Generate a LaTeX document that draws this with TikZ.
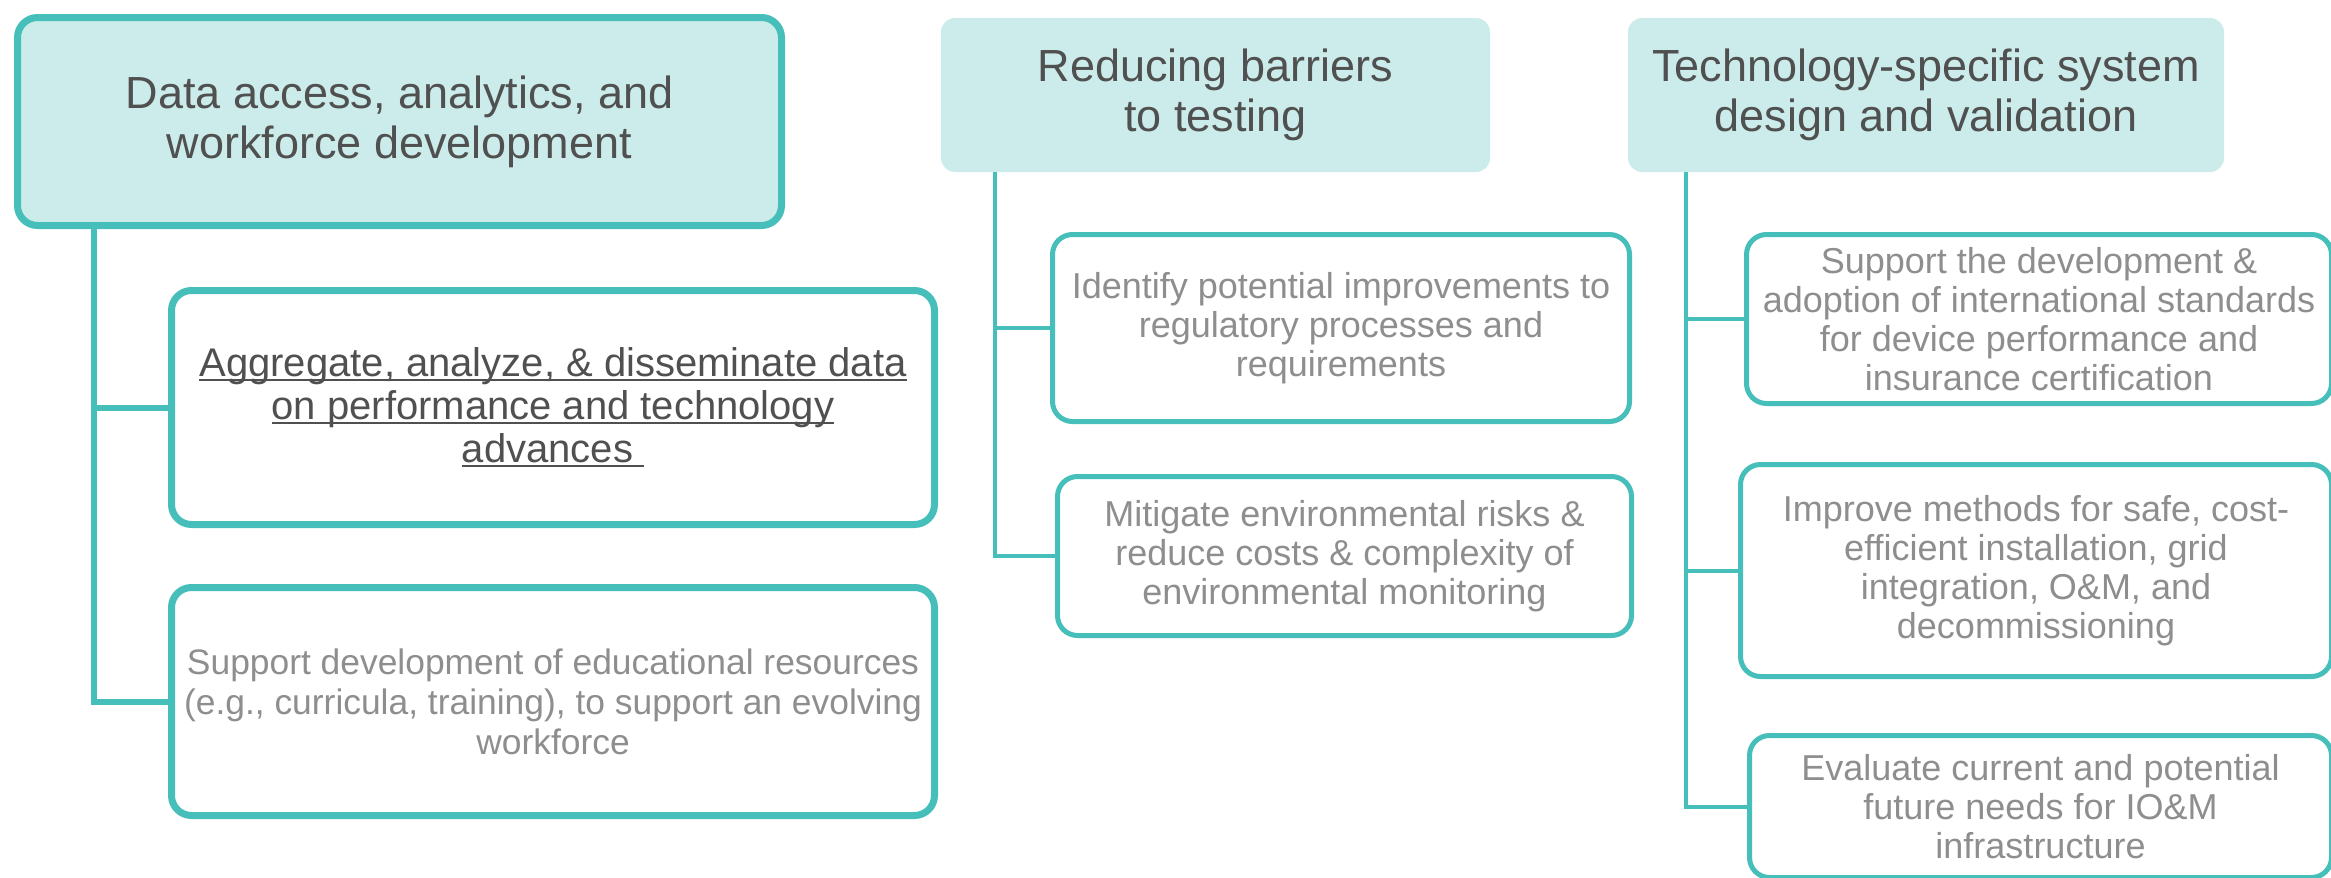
\documentclass[tikz,border=0pt]{standalone}
\usepackage{fontspec}
\setmainfont{Liberation Sans}
\usetikzlibrary{positioning}
\definecolor{myteal}{HTML}{46BEBA}
\definecolor{mypale}{HTML}{CBECEA}
\definecolor{mydark}{HTML}{505050}
\definecolor{mygrey}{HTML}{8E8E8E}
\newcommand\ulin[1]{\setbox0\hbox{#1}\rlap{\rule[-2pt]{\wd0}{0.9pt}}\box0}

\begin{document}
\begin{tikzpicture}
[x=0.5pt, y=-0.5pt,
 hdr/.style={rectangle, rounded corners=7pt, fill=mypale, text=mydark, inner sep=0pt,
   font=\fontsize{22.5}{25}\selectfont},
 goal/.style={rectangle, rounded corners=10pt, draw=myteal, line width=2.5pt, fill=white,
   text=mygrey, inner sep=0pt, font=\fontsize{18}{19.5}\selectfont},
 link/.style={draw=myteal, line width=2pt},
 every text node part/.style={align=center}]

\useasboundingbox (0,0) rectangle (2331,878);
\clip (0,0) rectangle (2331,878);

% the three headings
\node[hdr, draw=myteal, line width=3.5pt, rounded corners=10pt, minimum width=382pt,
  minimum height=104pt] (data) at (399.5,121.5) {Data access, analytics, and\\workforce development};
\node[hdr, minimum width=274.5pt, minimum height=77pt] (test) at (1215.5,95) {Reducing barriers\\to testing};
\node[hdr, minimum width=298pt, minimum height=77pt] (tech) at (1926,95) {Technology-specific system\\design and validation};

% goals under each heading
\node[goal, line width=3.5pt, text=mydark, font=\fontsize{20}{21.5}\selectfont,
  minimum width=381.5pt, minimum height=117pt] (aggr) at (553,407.5)
  {\ulin{Aggregate, analyze, \& disseminate data}\\\ulin{on performance and technology}\\\ulin{advances\ }};
\node[goal, line width=3.5pt, font=\fontsize{17.7}{20}\selectfont,
  minimum width=381.5pt, minimum height=114pt] (edu) at (553,701.5)
  {Support development of educational resources\\(e.g., curricula, training), to support an evolving\\workforce};

\node[goal, minimum width=288.5pt, minimum height=93.5pt] (regs) at (1341,328)
  {Identify potential improvements to\\regulatory processes and\\requirements};
\node[goal, minimum width=287pt, minimum height=79.5pt] (envr) at (1344.5,556)
  {Mitigate environmental risks \&\\reduce costs \& complexity of\\environmental monitoring};

\node[goal, minimum width=292.5pt, minimum height=84.5pt] (stds) at (2039,319)
  {Support the development \&\\adoption of international standards\\for device performance and\\insurance certification};
\node[goal, minimum width=295.5pt, minimum height=106pt] (inst) at (2036,570.5)
  {Improve methods for safe, cost-\\efficient installation, grid\\integration, O\&M, and\\decommissioning};
\node[goal, minimum width=291pt, minimum height=71pt] (infr) at (2040.5,806.5)
  {Evaluate current and potential\\future needs for IO\&M\\infrastructure};

% trunks and branches
\coordinate (tA) at (94,0);
\coordinate (tB) at (995,0);
\coordinate (tC) at (1686,0);

\draw[link, line width=3pt] (data.south -| tA) |- (aggr.west);
\draw[link, line width=3pt] (data.south -| tA) |- (edu.west);
\draw[link] (test.south -| tB) |- (regs.west);
\draw[link] (test.south -| tB) |- (envr.west);
\draw[link] (tech.south -| tC) |- (stds.west);
\draw[link] (tech.south -| tC) |- (inst.west);
\draw[link] (tech.south -| tC) |- (infr.west);

\end{tikzpicture}
\end{document}
